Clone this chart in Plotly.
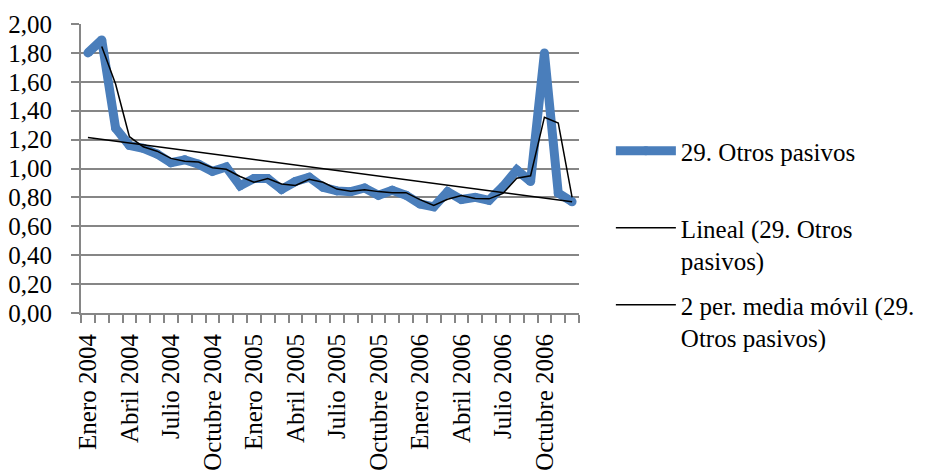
import numpy as np
import plotly.graph_objects as go

meses = ["Enero", "Febrero", "Marzo", "Abril", "Mayo", "Junio", "Julio",
         "Agosto", "Septiembre", "Octubre", "Noviembre", "Diciembre"]
anios = [2004, 2005, 2006]
categorias = [f"{m} {a}" for a in anios for m in meses]

otros_pasivos = [1.80, 1.89, 1.28, 1.16, 1.14, 1.10, 1.04, 1.06, 1.03, 0.98, 1.01, 0.88,
                 0.93, 0.93, 0.855, 0.91, 0.94, 0.87, 0.845, 0.84, 0.865, 0.815, 0.85, 0.815,
                 0.755, 0.735, 0.84, 0.785, 0.80, 0.78, 0.875, 0.99, 0.91, 1.80, 0.83, 0.77]

y_ticks = [0.0, 0.2, 0.4, 0.6, 0.8, 1.0, 1.2, 1.4, 1.6, 1.8, 2.0]

n = len(otros_pasivos)
idx = np.arange(n)
pend, inter = np.polyfit(idx, otros_pasivos, 1)
lineal = (inter + pend * idx).tolist()
media_movil = [None] + [(otros_pasivos[i - 1] + otros_pasivos[i]) / 2 for i in range(1, n)]

ticktext = [c if i % 3 == 0 else "" for i, c in enumerate(categorias)]

FONT = "Liberation Serif, Times New Roman, serif"
GRID = "#868686"

fig = go.Figure()
fig.add_trace(go.Scatter(
    x=categorias, y=otros_pasivos, mode="lines+markers",
    name="29. Otros pasivos<br> ",
    line=dict(color="#4A7EBB", width=9),
    marker=dict(color="#4A7EBB", size=9, line=dict(width=0)),
    legendgroup="a",
))
fig.add_trace(go.Scatter(
    x=categorias, y=lineal, mode="lines",
    name="Lineal (29. Otros<br>pasivos)",
    line=dict(color="black", width=1.5),
    legendgroup="b",
))
fig.add_trace(go.Scatter(
    x=categorias, y=media_movil, mode="lines",
    name="2 per. media móvil (29.<br>Otros pasivos)",
    line=dict(color="black", width=1.5),
    legendgroup="c",
))

fig.update_layout(
    width=924, height=468,
    margin=dict(l=73, r=351, t=16, b=163),
    paper_bgcolor="white", plot_bgcolor="white",
    font=dict(family=FONT, size=25, color="black"),
    separators=",.",
    showlegend=True,
    legend=dict(
        x=1.064, xanchor="left", y=0.64, yanchor="top",
        valign="top", tracegroupgap=9,
        font=dict(family=FONT, size=25, color="black"),
        bgcolor="rgba(0,0,0,0)", itemwidth=60,
    ),
)
fig.update_xaxes(
    type="category",
    tickvals=categorias, ticktext=ticktext,
    tickangle=-90, tickson="boundaries",
    ticks="outside", ticklen=8, tickwidth=2, tickcolor=GRID,
    showline=True, linecolor=GRID, linewidth=2,
    showgrid=False, zeroline=False, automargin=False,
    ticklabelstandoff=9,
    range=[-0.5, n - 0.5],
)
fig.update_yaxes(
    range=[0, 2], tickvals=y_ticks, tickformat=".2f",
    ticks="outside", ticklen=8, tickwidth=2, tickcolor=GRID,
    showline=True, linecolor=GRID, linewidth=2,
    showgrid=True, gridcolor=GRID, gridwidth=2,
    zeroline=False, ticklabelstandoff=14, automargin=False,
)

fig.write_html("out.html")
